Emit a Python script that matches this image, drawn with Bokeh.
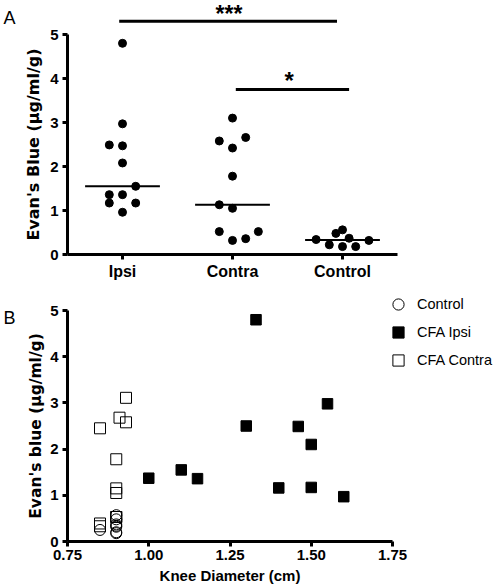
import numpy as np
from bokeh.plotting import figure
from bokeh.layouts import column
from bokeh.models import (Range1d, FixedTicker, Label, Legend, LegendItem,
                          PrintfTickFormatter)
from bokeh.embed import file_html
from bokeh.resources import INLINE

FONT = "Liberation Sans"
LABEL_FONT = "DejaVu Sans"

# ---------------- Panel A data ----------------
groups = ["Ipsi", "Contra", "Control"]
group_pos = [1, 2, 3]

ipsi_vals = [4.80, 2.97, 2.49, 2.47, 2.08, 1.55, 1.36, 1.36, 1.17, 1.17, 0.96]
ipsi_jit = [0, 0, -0.12, 0, 0, 0.12, -0.12, 0, -0.12, 0.12, 0]

contra_vals = [3.10, 2.66, 2.58, 2.42, 1.78, 1.13, 1.05, 0.52, 0.52, 0.36, 0.32]
contra_jit = [0, 0.12, -0.12, 0, 0, -0.12, 0, -0.12, 0.235, 0.12, 0]

control_vals = [0.34, 0.22, 0.48, 0.56, 0.18, 0.37, 0.18, 0.32]
control_jit = [-0.24, -0.12, -0.06, 0, 0, 0.06, 0.12, 0.24]

yticks_a = [0, 1, 2, 3, 4, 5]

# significance comparisons
sig_text = ["***", "*"]
sig_x0 = [0.97, 2.03]
sig_x1 = [2.95, 3.06]
sig_y = [5.30, 3.75]
sig_tx = [1.968, 2.515]
sig_ty = [5.455, 3.96]
sig_size = ["23px", "24px"]

# ---------------- Panel B data ----------------
knee_control = [0.90, 0.85, 0.90, 0.90, 0.90, 0.90, 0.90, 0.90]
eb_control = [0.34, 0.25, 0.48, 0.57, 0.18, 0.37, 0.20, 0.32]

knee_ipsi = [1.33, 1.55, 1.30, 1.46, 1.50, 1.00, 1.10, 1.15, 1.40, 1.50, 1.60]
eb_ipsi = [4.80, 2.98, 2.50, 2.49, 2.10, 1.37, 1.55, 1.36, 1.16, 1.17, 0.97]

knee_contra = [0.85, 0.93, 0.91, 0.93, 0.90, 0.90, 0.90, 0.85, 0.85, 0.90, 0.90]
eb_contra = [2.45, 3.11, 2.68, 2.58, 1.78, 1.15, 1.05, 0.39, 0.33, 0.53, 0.53]

xticks_b = [0.75, 1.00, 1.25, 1.50, 1.75]
yticks_b = [0, 1, 2, 3, 4, 5]
legend_names = ["Control", "CFA Ipsi", "CFA Contra"]


def style_axes(p, xsize, ysize):
    for ax in (p.xaxis[0], p.yaxis[0]):
        ax.axis_line_width = 3
        ax.axis_line_color = "black"
        ax.major_tick_line_width = 3
        ax.major_tick_line_color = "black"
        ax.major_tick_out = 5
        ax.major_tick_in = 0
        ax.minor_tick_line_color = None
        ax.major_label_text_font = FONT
        ax.major_label_text_font_style = "bold"
        ax.major_label_text_color = "black"
        ax.axis_label_text_color = "black"
        ax.axis_label_text_font_style = "bold"
    p.xaxis[0].major_label_text_font_size = xsize
    p.yaxis[0].major_label_text_font_size = ysize
    p.xgrid.visible = False
    p.ygrid.visible = False
    p.outline_line_color = None
    p.background_fill_color = "white"
    p.border_fill_color = "white"


# ---------------- Panel A ----------------
pa = figure(width=496, height=290, title=None, toolbar_location=None,
            output_backend="svg",
            x_range=Range1d(0.5 - 67 / 110, 0.5 + (496 - 67) / 110),
            y_range=Range1d(-36 / 44, 254 / 44),
            min_border_left=0, min_border_right=0,
            min_border_top=0, min_border_bottom=0)
style_axes(pa, "16px", "15px")
pa.xaxis.fixed_location = 0
pa.yaxis.fixed_location = 0.5
pa.xaxis.ticker = FixedTicker(ticks=group_pos)
pa.xaxis.major_label_overrides = {g: n for g, n in zip(group_pos, groups)}
pa.xaxis.bounds = (0.5, 3.5)
pa.xaxis.major_label_standoff = 3
pa.yaxis.ticker = FixedTicker(ticks=yticks_a)
pa.yaxis.bounds = (0, 5)
pa.yaxis.major_label_standoff = 4
pa.yaxis.axis_label = "Evan's Blue (μg/ml/g)"
pa.yaxis.axis_label_text_font = LABEL_FONT
pa.yaxis.axis_label_text_font_size = "16px"
pa.yaxis.axis_label_standoff = 4

all_vals = [ipsi_vals, contra_vals, control_vals]
all_jit = [ipsi_jit, contra_jit, control_jit]
for pos, vals, jit in zip(group_pos, all_vals, all_jit):
    xs = [pos + j for j in jit]
    pa.scatter(x=xs, y=vals, size=8, marker="circle", color="black")
    med = float(np.median(vals))
    pa.segment(x0=[pos - 0.34], x1=[pos + 0.34], y0=[med], y1=[med],
               line_color="black", line_width=2)

pa.segment(x0=sig_x0, x1=sig_x1, y0=sig_y, y1=sig_y,
           line_color="black", line_width=3)
for t, tx, ty, fs in zip(sig_text, sig_tx, sig_ty, sig_size):
    pa.add_layout(Label(x=tx, y=ty, text=t, text_align="center",
                        text_baseline="alphabetic", text_font=FONT,
                        text_font_style="bold", text_font_size=fs,
                        text_color="black"))

pa.add_layout(Label(x=-0.082, y=5.386, text="A", text_align="left",
                    text_baseline="alphabetic", text_font=FONT,
                    text_font_size="18px", text_color="black"))

# ---------------- Panel B ----------------
pb = figure(width=496, height=296, title=None, toolbar_location=None,
            output_backend="svg",
            x_range=Range1d(0.75 - 67 / 325, 0.75 + (496 - 67) / 325),
            y_range=Range1d(-45 / 46.2, 251 / 46.2),
            min_border_left=0, min_border_right=0,
            min_border_top=0, min_border_bottom=0)
style_axes(pb, "15px", "15px")
pb.xaxis.fixed_location = 0
pb.yaxis.fixed_location = 0.75
pb.xaxis.ticker = FixedTicker(ticks=xticks_b)
pb.xaxis.formatter = PrintfTickFormatter(format="%.2f")
pb.xaxis.bounds = (0.75, 1.75)
pb.xaxis.major_label_standoff = 3
pb.xaxis.axis_label = "Knee Diameter (cm)"
pb.xaxis.axis_label_text_font = FONT
pb.xaxis.axis_label_text_font_size = "15px"
pb.xaxis.axis_label_standoff = 4
pb.yaxis.ticker = FixedTicker(ticks=yticks_b)
pb.yaxis.bounds = (0, 5)
pb.yaxis.major_label_standoff = 4
pb.yaxis.axis_label = "Evan's blue (μg/ml/g)"
pb.yaxis.axis_label_text_font = LABEL_FONT
pb.yaxis.axis_label_text_font_size = "15.5px"
pb.yaxis.axis_label_standoff = 2

r_ctrl = pb.scatter(x=knee_control, y=eb_control, marker="circle", size=11,
                    line_color="black", line_width=1, fill_color=None)
r_ipsi = pb.scatter(x=knee_ipsi, y=eb_ipsi, marker="square", size=10.5,
                    line_color="black", fill_color="black")
r_contra = pb.scatter(x=knee_contra, y=eb_contra, marker="square", size=11,
                      line_color="black", line_width=1, fill_color=None)

legend = Legend(items=[LegendItem(label=n, renderers=[r])
                       for n, r in zip(legend_names, [r_ctrl, r_ipsi, r_contra])],
                location=(384, 212), padding=0, margin=0, spacing=-6,
                glyph_width=28, glyph_height=28, label_height=20,
                label_standoff=5, label_text_font=FONT,
                label_text_font_size="14.5px", label_text_color="black",
                border_line_color=None, background_fill_alpha=0)
pb.add_layout(legend, "center")

pb.add_layout(Label(x=0.553, y=4.827, text="B", text_align="left",
                    text_baseline="alphabetic", text_font=FONT,
                    text_font_size="18px", text_color="black"))

layout = column(pa, pb, spacing=0)
open("out.html", "w").write(file_html(layout, INLINE))
